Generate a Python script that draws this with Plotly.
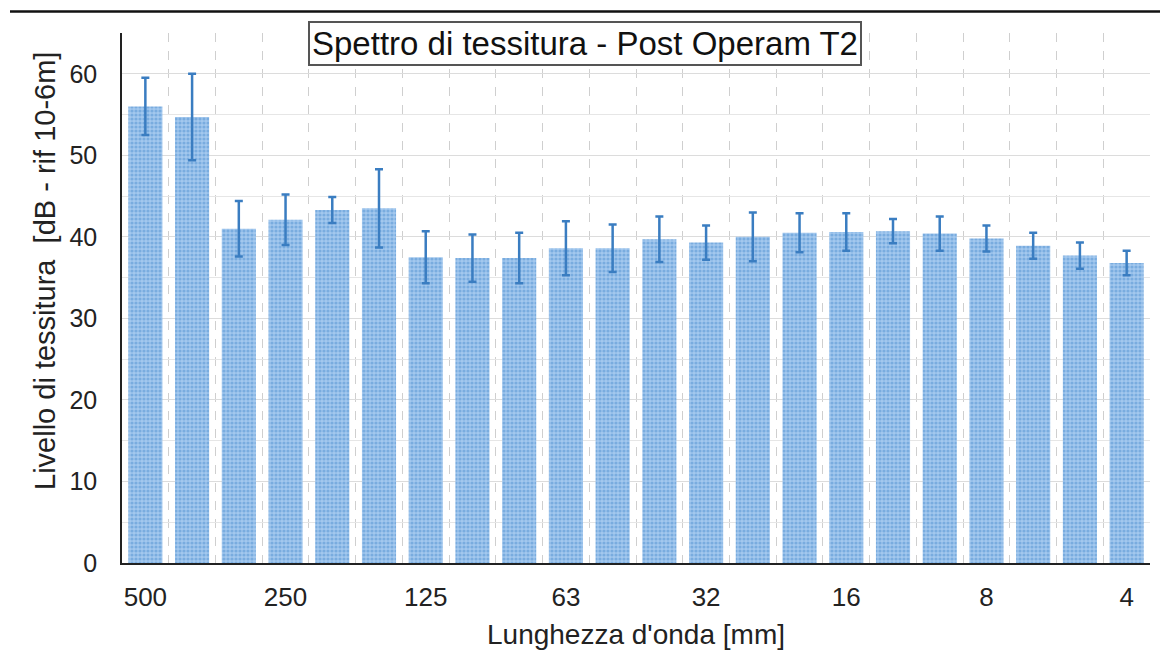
import plotly.graph_objects as go

categories = ["500", "400", "315", "250", "200", "160", "125", "100", "80", "63", "50",
              "40", "32", "25", "20", "16", "12.5", "10", "8", "6.3", "5", "4"]
levels = [56.0, 54.7, 41.0, 42.1, 43.3, 43.5, 37.5, 37.4, 37.4, 38.6, 38.6,
          39.7, 39.3, 40.0, 40.5, 40.6, 40.7, 40.4, 39.8, 38.9, 37.7, 36.8]
errors = [3.5, 5.3, 3.4, 3.1, 1.6, 4.8, 3.2, 2.9, 3.1, 3.3, 2.9,
          2.8, 2.1, 3.0, 2.4, 2.3, 1.5, 2.1, 1.6, 1.6, 1.6, 1.5]
tick_labels = ["500", "250", "125", "63", "32", "16", "8", "4"]

x_pos = list(range(len(categories)))
tick_pos = [categories.index(t) for t in tick_labels]

FONT = "Arial, Liberation Sans, sans-serif"

W, H = 1160, 659
L, R, T, B = 114, 18, 25, 104
PW, PH = W - L - R, H - T - B


def px(x):
    return (x - L) / PW


def py(y):
    return (H - B - y) / PH


fig = go.Figure()
fig.add_trace(go.Bar(
    x=x_pos, y=levels, width=0.73,
    marker=dict(color="#8fbbe7", line=dict(width=0),
                pattern=dict(shape=".", fgcolor="#4f8fd0", bgcolor="#a3c8ee", size=4, solidity=0.5)),
    error_y=dict(type="data", array=errors, visible=True, color="#3a7dc1", thickness=2.5, width=4),
    hoverinfo="skip",
))

fig.update_layout(
    width=W, height=H,
    margin=dict(l=L, r=R, t=T, b=B),
    paper_bgcolor="white", plot_bgcolor="white",
    showlegend=False,
    font=dict(family=FONT, size=20, color="#222"),
    xaxis=dict(
        range=[-0.5, len(categories) - 0.5],
        tickmode="array", tickvals=tick_pos, ticktext=tick_labels,
        showgrid=False, zeroline=False,
        showline=True, linecolor="#222", linewidth=1.5,
        ticks="", ticklabelstandoff=10,
        tickfont=dict(size=26),
        title=dict(text="Lunghezza d'onda [mm]", font=dict(size=28), standoff=13),
        minor=dict(tickmode="linear", tick0=0.5, dtick=1, showgrid=True,
                   gridcolor="#cfcfcf", griddash="dash", gridwidth=1, ticks=""),
    ),
    yaxis=dict(
        range=[0, 65],
        tickmode="linear", tick0=0, dtick=10,
        showgrid=True, gridcolor="#dcdcdc", gridwidth=1.2,
        zeroline=False,
        showline=True, linecolor="#222", linewidth=1.5,
        ticks="", tickfont=dict(size=25), ticklabelstandoff=18,
        minor=dict(tickmode="linear", tick0=0, dtick=5, showgrid=True,
                   gridcolor="#e6e6e6", gridwidth=1, ticks=""),
    ),
)

# y-axis title (placed as rotated text, slightly above the plot centre as in the original)
fig.add_annotation(
    text="Livello di tessitura  [dB - rif 10-6m]",
    xref="paper", yref="paper", x=px(37), y=py(263),
    xanchor="center", yanchor="middle", showarrow=False, textangle=-90,
    font=dict(family=FONT, size=29, color="#222"),
)

fig.add_annotation(
    text="Spettro di tessitura - Post Operam T2",
    xref="paper", yref="paper",
    x=px(577), y=py(35),
    xanchor="center", yanchor="middle", showarrow=False,
    font=dict(family=FONT, size=33, color="#111"),
    bgcolor="white", bordercolor="#555", borderwidth=2, borderpad=2,
)

fig.add_shape(type="line", xref="paper", yref="paper",
              x0=px(2), x1=px(W),
              y0=py(3.5), y1=py(3.5),
              line=dict(color="#111", width=2.5))

fig.write_html("out.html")
